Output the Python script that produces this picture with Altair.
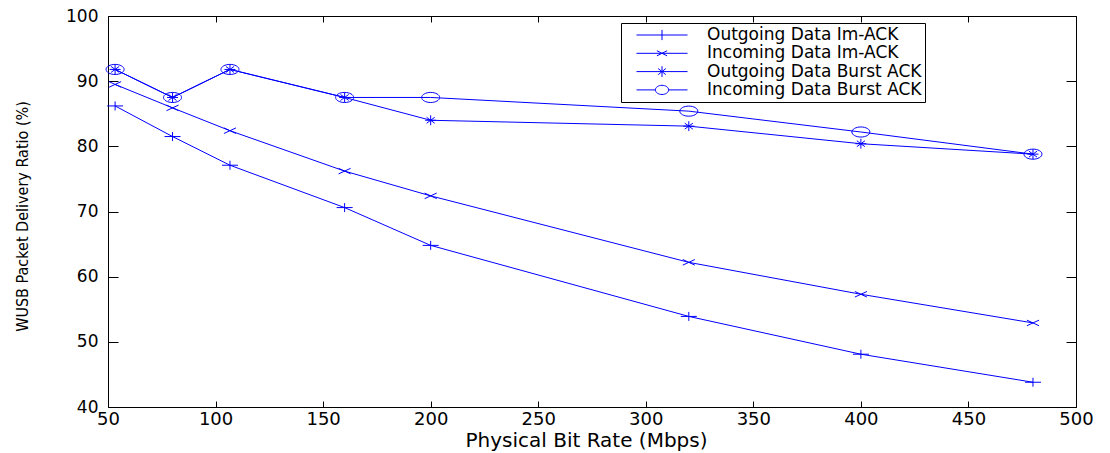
import altair as alt
import pandas as pd

# ---- data ----
rates = [53.3, 80, 106.7, 160, 200, 320, 400, 480]
series_names = [
    "Outgoing Data Im-ACK",
    "Incoming Data Im-ACK",
    "Outgoing Data Burst ACK",
    "Incoming Data Burst ACK",
]
outgoing_im = [86.2, 81.5, 77.1, 70.6, 64.8, 53.9, 48.1, 43.8]
incoming_im = [89.5, 85.9, 82.4, 76.2, 72.4, 62.2, 57.3, 52.9]
outgoing_burst = [91.8, 87.5, 91.8, 87.5, 84.0, 83.1, 80.4, 78.8]
incoming_burst = [91.8, 87.5, 91.8, 87.5, 87.5, 85.4, 82.2, 78.8]
x_ticks = [50, 100, 150, 200, 250, 300, 350, 400, 450, 500]
y_ticks = [40, 50, 60, 70, 80, 90, 100]

values = [outgoing_im, incoming_im, outgoing_burst, incoming_burst]
rows = []
for name, vals in zip(series_names, values):
    for r, v in zip(rates, vals):
        rows.append({"rate": r, "ratio": v, "series": name})
df = pd.DataFrame(rows)

BLUE = "#0000ff"
FONT = "DejaVu Sans"

# marker shapes (MATLAB style: +, x, *, o), stretched horizontally
marker_paths = [
    "M-0.89,0H0.89M0,-0.5V0.5",
    "M-0.67,-0.31L0.67,0.31M-0.67,0.31L0.67,-0.31",
    "M-0.61,0H0.61M0,-0.55V0.55M-0.45,-0.33L0.45,0.33M-0.45,0.33L0.45,-0.33",
    "M-1,0A1,0.56 0 1,1 1,0A1,0.56 0 1,1 -1,0Z",
]
legend_paths = [
    "M-1,0H1M0,-0.2V0.2",
    "M-1,0H1M-0.2,-0.1L0.2,0.1M-0.2,0.1L0.2,-0.1",
    "M-1,0H1M0,-0.21V0.21M-0.15,-0.12L0.15,0.12M-0.15,0.12L0.15,-0.12",
    "M-1,0H-0.26A0.26,0.18 0 1,1 0.26,0A0.26,0.18 0 1,1 -0.26,0M0.26,0H1",
]

xscale = alt.Scale(domain=[50, 500], nice=False, zero=False)
yscale = alt.Scale(domain=[40, 100], nice=False, zero=False)


def tick_axis(orient, size):
    return alt.Axis(
        orient=orient,
        values=x_ticks if orient in ("top", "bottom") else y_ticks,
        labels=False,
        domain=False,
        grid=False,
        ticks=True,
        tickSize=size,
        tickColor="black",
        tickWidth=1,
        offset=-size,
        title=None,
    )


lines = alt.Chart(df).mark_line(color=BLUE, strokeWidth=1).encode(
    x=alt.X(
        "rate:Q",
        scale=xscale,
        axis=alt.Axis(
            orient="bottom",
            values=x_ticks,
            format="d",
            ticks=False,
            domain=False,
            grid=False,
            labelFont=FONT,
            labelFontSize=18,
            labelColor="black",
            labelPadding=3,
            labelFlush=False,
            labelOverlap=False,
            title="Physical Bit Rate (Mbps)",
            titleFont=FONT,
            titleFontSize=20,
            titleFontWeight="normal",
            titleColor="black",
            titleX=478,
            titleY=33,
            titleAlign="center",
            titleBaseline="middle",
        ),
    ),
    y=alt.Y(
        "ratio:Q",
        scale=yscale,
        axis=alt.Axis(
            orient="left",
            values=y_ticks,
            ticks=False,
            domain=False,
            grid=False,
            labelFont=FONT,
            labelFontSize=17,
            labelColor="black",
            labelPadding=10,
            labelFlush=False,
            labelOverlap=False,
            title="WUSB Packet Delivery Ratio (%)",
            titleFont="DejaVu Sans Condensed, Liberation Sans",
            titleFontSize=16,
            titleFontWeight="normal",
            titleColor="black",
            titleAngle=270,
            titleX=-86,
            titleY=200,
            titleAlign="center",
            titleBaseline="middle",
        ),
    ),
    detail="series:N",
)

points = alt.Chart(df).mark_point(
    filled=False, color=BLUE, strokeWidth=1, size=324, opacity=1
).encode(
    x=alt.X("rate:Q", scale=xscale, axis=tick_axis("bottom", 6)),
    y=alt.Y("ratio:Q", scale=yscale, axis=tick_axis("left", 10)),
    shape=alt.Shape(
        "series:N",
        scale=alt.Scale(domain=series_names, range=marker_paths),
        legend=None,
    ),
)

legend_layer = alt.Chart(df).mark_point(
    filled=False, color=BLUE, strokeWidth=1, opacity=0
).encode(
    x=alt.X("rate:Q", scale=xscale, axis=tick_axis("top", 6)),
    y=alt.Y("ratio:Q", scale=yscale, axis=tick_axis("right", 10)),
    shape=alt.Shape(
        "series:N",
        scale=alt.Scale(domain=series_names, range=legend_paths),
        legend=alt.Legend(
            title=None,
            orient="none",
            legendX=513,
            legendY=7,
            padding=3,
            strokeColor="black",
            fillColor="white",
            labelFont=FONT,
            labelFontSize=17,
            labelColor="black",
            labelOffset=19,
            labelLimit=600,
            symbolSize=2601,
            symbolStrokeWidth=1,
            symbolStrokeColor=BLUE,
            symbolFillColor="transparent",
            symbolOpacity=1,
            symbolOffset=12,
            clipHeight=18,
            rowPadding=0.3,
        ),
    ),
)

chart = (
    alt.layer(lines, points, legend_layer)
    .resolve_scale(x="independent", y="independent", shape="independent")
    .resolve_axis(x="independent", y="independent")
    .resolve_legend(shape="independent")
    .properties(
        width=968,
        height=391,
        padding={"left": 100, "top": 8, "right": 20, "bottom": 44},
        autosize=alt.AutoSizeParams(type="none"),
        background="white",
    )
    .configure_view(stroke="black", strokeWidth=1)
)

chart.save("out.html", embed_options={"renderer": "svg", "actions": False})
